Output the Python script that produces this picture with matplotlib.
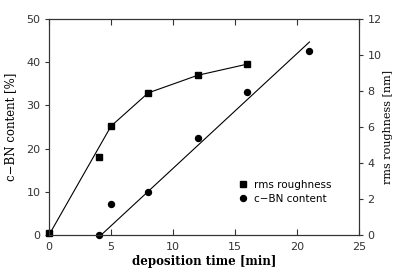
import numpy as np
import matplotlib
matplotlib.use("Agg")
import matplotlib.pyplot as plt

# rms roughness (squares) read in nm, right axis
rough_t = [0, 4, 5, 8, 12, 16]
rough_nm = [0.12, 4.32, 6.05, 7.9, 8.88, 9.5]
# guide line through the roughness points
rough_line_t = [0, 5, 8, 12, 16]
rough_line_nm = [0.0, 6.05, 7.9, 8.88, 9.5]

# c-BN content (circles), left axis
cbn_t = [4, 5, 8, 12, 16, 21]
cbn_pct = [0, 7.1, 9.9, 22.4, 33.2, 42.7]
# linear fit line
fit_t = [4.2, 21]
fit_pct = [0, 44.7]

x_ticks = [0, 5, 10, 15, 20, 25]
left_ticks = [0, 10, 20, 30, 40, 50]
right_ticks = [0, 2, 4, 6, 8, 10, 12]

tick_font = "DejaVu Sans"
label_font = "DejaVu Serif"

fig = plt.figure(figsize=(3.95, 2.73), dpi=100)
ax = fig.add_axes([0.124, 0.139, 0.785, 0.791])
ax2 = ax.twinx()

ax.plot(fit_t, fit_pct, color="black", lw=0.8)
ax.plot(cbn_t, cbn_pct, "o", color="black", ms=4.3, ls="none", clip_on=False)
ax2.plot(rough_line_t, rough_line_nm, color="black", lw=0.8)
ax2.plot(rough_t, rough_nm, "s", color="black", ms=4.3, ls="none", clip_on=False)

ax.set_xlim(0, 25)
ax.set_ylim(0, 50)
ax2.set_ylim(0, 12)
ax.set_xticks(x_ticks)
ax.set_yticks(left_ticks)
ax2.set_yticks(right_ticks)

for a in (ax, ax2):
    for s in a.spines.values():
        s.set_linewidth(0.8)
        s.set_color("#333333")
ax.tick_params(axis="x", direction="in", top=True, length=4, width=0.8,
               labelsize=8, colors="#333333", pad=5)
ax.tick_params(axis="y", direction="out", length=3, width=0.8,
               labelsize=8, colors="#333333", pad=3)
ax2.tick_params(axis="y", direction="out", length=3, width=0.8,
                labelsize=8, colors="#333333", pad=3)
for lab in ax.get_xticklabels() + ax.get_yticklabels() + ax2.get_yticklabels():
    lab.set_fontfamily(tick_font)

ax.set_xlabel("deposition time [min]", family=label_font, fontsize=8.5,
              fontweight="bold", labelpad=2)
ax.set_ylabel("c\u2212BN content [%]", family=label_font, fontsize=8.5, labelpad=7)
ax2.set_ylabel("rms roughness [nm]", family=label_font, fontsize=8, labelpad=1)

# legend
h1, = ax.plot([], [], "s", color="black", ms=4.3)
h2, = ax.plot([], [], "o", color="black", ms=4.3)
leg = ax.legend([h1, h2], ["rms roughness", "c\u2212BN content"],
                loc="lower right", bbox_to_anchor=(0.94, 0.1), frameon=False,
                prop={"family": tick_font, "size": 7.5}, handlelength=0.8,
                handletextpad=0.6, labelspacing=0.4)

fig.savefig("out.png", dpi=100)
